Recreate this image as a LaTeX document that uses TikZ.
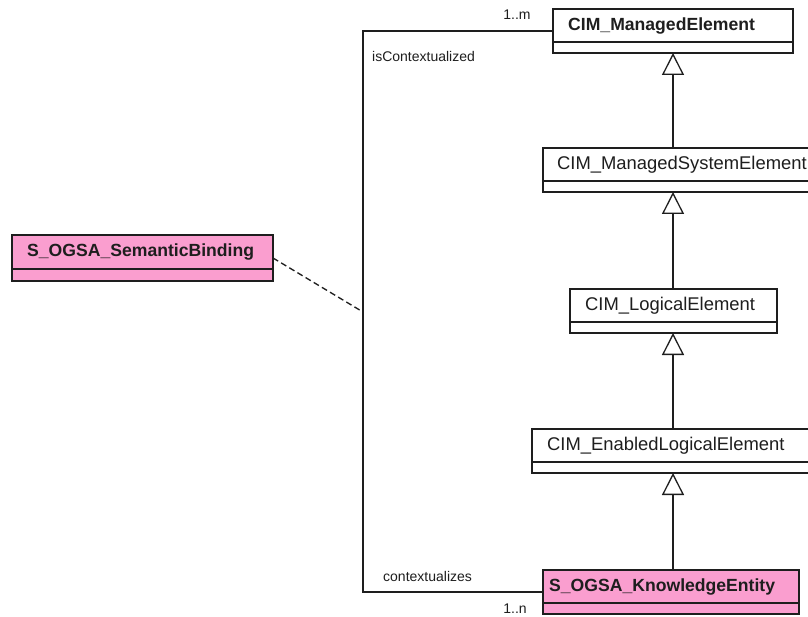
\documentclass[tikz,border=0pt]{standalone}
\usepackage{fontspec}
\setmainfont{Liberation Sans}
\usetikzlibrary{arrows.meta,calc}
\definecolor{pinkfill}{RGB}{250,158,207}
\definecolor{ink}{RGB}{30,30,30}
\begin{document}
\begin{tikzpicture}[x=1pt,y=-1pt,
  namebox/.style={draw=ink, line width=1.3pt, anchor=north west, minimum height=33pt, inner sep=0pt, outer sep=0pt},
  attrbox/.style={draw=ink, line width=1.3pt, anchor=north west, minimum height=11pt, inner sep=0pt, outer sep=0pt},
  clsname/.style={anchor=west, inner sep=0pt, text=ink, font=\fontsize{18.4}{20}\selectfont},
  boldname/.style={clsname, font=\fontsize{17.6}{20}\selectfont\bfseries},
  lbl/.style={inner sep=0pt, text=ink, font=\fontsize{14}{16}\selectfont},
  inh/.style={draw=ink, line width=1.3pt, -{Triangle[open, length=22pt, width=22pt, line width=1.3pt]}},
  assoc/.style={draw=ink, line width=1.3pt},
  dep/.style={draw=ink, line width=1.3pt, dash pattern=on 6pt off 3.5pt},
]
\clip (0,0) rectangle (808,617);
\fill[white] (0,0) rectangle (808,617);

% CIM_ManagedElement
\node[namebox, minimum width=240pt] (me) at (553,9) {};
\node[attrbox, minimum width=240pt] (mea) at (me.south west) {};
\node[boldname] (met) at ($(me.west)+(15,0)$) {CIM\_ManagedElement};

% CIM_ManagedSystemElement
\node[namebox, minimum width=275pt] (mse) at (543,148) {};
\node[attrbox, minimum width=275pt] (msea) at (mse.south west) {};
\node[clsname] (mset) at ($(mse.west)+(14,0)$) {CIM\_ManagedSystemElement};

% CIM_LogicalElement
\node[namebox, minimum width=207pt] (le) at (570,289) {};
\node[attrbox, minimum width=207pt] (lea) at (le.south west) {};
\node[clsname] (let) at ($(le.west)+(15,0)$) {CIM\_LogicalElement};

% CIM_EnabledLogicalElement
\node[namebox, minimum width=290pt] (ele) at (532,429) {};
\node[attrbox, minimum width=290pt] (elea) at (ele.south west) {};
\node[clsname] (elet) at ($(ele.west)+(15,0)$) {CIM\_EnabledLogicalElement};

% S_OGSA_KnowledgeEntity
\node[namebox, fill=pinkfill, minimum width=256pt] (kn) at (543,570) {};
\node[attrbox, fill=pinkfill, minimum width=256pt] (kna) at (kn.south west) {};
\node[boldname] (knt) at ($(kn.west)+(6,0)$) {S\_OGSA\_KnowledgeEntity};

% S_OGSA_SemanticBinding
\node[namebox, fill=pinkfill, minimum width=261pt, minimum height=34pt] (sb) at (12,235) {};
\node[attrbox, fill=pinkfill, minimum width=261pt, minimum height=12pt] (sba) at (sb.south west) {};
\node[boldname] (sbt) at ($(sb.west)+(15,0)$) {S\_OGSA\_SemanticBinding};

% generalisations
\draw[inh] (mse.north -| mea.south) -- (mea.south);
\draw[inh] (le.north -| mea.south) -- (msea.south -| mea.south);
\draw[inh] (ele.north -| mea.south) -- (lea.south -| mea.south);
\draw[inh] (kn.north -| mea.south) -- (elea.south -| mea.south);

% association
\coordinate (tl) at (363,31);
\coordinate (bl) at (363,592);
\coordinate (dj) at (363,312);
\draw[assoc] ($(me.north west)+(0,22)$) -- (tl) -- (bl) -- ($(kn.north west)+(0,22)$);
\draw[dep] ($(sb.north east)+(0,23)$) -- (dj);

% labels
\node[lbl] (m1) at (517,15) {1..m};
\node[lbl, anchor=west] (isc) at (372,57) {isContextualized};
\node[lbl, anchor=west] (ctx) at (383,576) {contextualizes};
\node[lbl] (n1) at (515,609) {1..n};
\end{tikzpicture}
\end{document}
